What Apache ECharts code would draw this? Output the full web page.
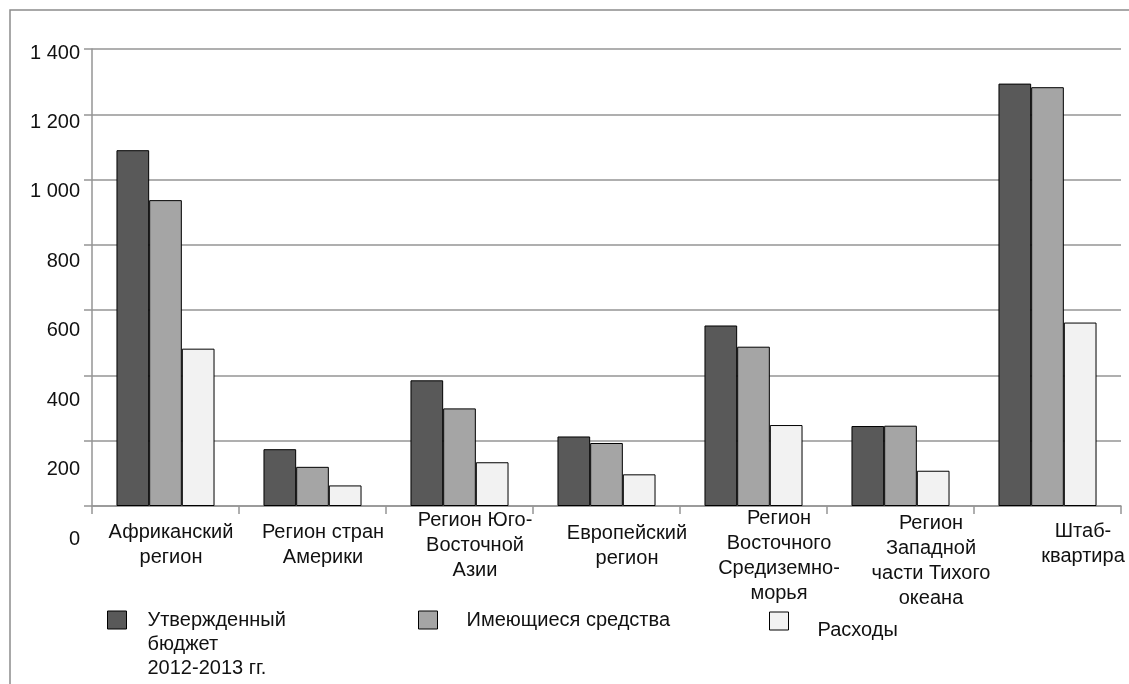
<!DOCTYPE html>
<html>
<head>
<meta charset="utf-8">
<script src="https://cdn.jsdelivr.net/npm/echarts@6/dist/echarts.min.js"></script>
<style>html,body{margin:0;padding:0;background:#fff;}#c{width:1129px;height:684px;}</style>
</head>
<body>
<div id="c"></div>
<script>
const categories = ['Африканский\nрегион','Регион стран\nАмерики','Регион Юго-\nВосточной\nАзии','Европейский\nрегион','Регион\nВосточного\nСредиземно-\nморья','Регион\nЗападной\nчасти Тихого\nокеана','Штаб-\nквартира'];
const seriesNames = ['Утвержденный\nбюджет\n2012-2013 гг.','Имеющиеся средства','Расходы'];
const budget = [1090, 174, 385, 213, 553, 245, 1294];
const available = [937, 120, 299, 193, 488, 246, 1283];
const expenses = [482, 63, 134, 97, 248, 108, 562];
const yMin = 0, yMax = 1400, yStep = 200;

// layout (style only)
const labelPadTop = [14,14,2,15,0,5,13];
const FONT = 'Liberation Sans, Arial, sans-serif';
const FS = 20;
const GRIDC = '#959595';
const colors = ['#595959','#a5a5a5','#f2f2f2'];

function fmt(v){ return String(v).replace(/\B(?=(\d{3})+(?!\d))/g,' '); }

const chart = echarts.init(document.getElementById('c'), null, {renderer:'canvas'});
const values = [budget, available, expenses];
const legendBase = {padding:0, itemWidth:19, itemHeight:18, selectedMode:false, icon:'rect',
  itemStyle:{borderColor:'#000', borderWidth:1}};
const option = {
  animation:false,
  backgroundColor:'#fff',
  textStyle:{fontFamily:FONT},
  graphic:[{type:'rect', shape:{x:10,y:10,width:1400,height:1000}, style:{fill:'none', stroke:'#8c8c8c', lineWidth:1.5}, silent:true, z:-1}],
  grid:[
    {left:92, right:8, top:49, bottom:178, outerBoundsMode:'none', containLabel:false},
    {left:95, width:1064, top:53, height:486, outerBoundsMode:'none', containLabel:false}
  ],
  xAxis:[
    {type:'category', gridIndex:0, data:categories, boundaryGap:true,
     axisLine:{show:true, lineStyle:{color:GRIDC, width:1.5}},
     axisTick:{show:true, length:8, interval:0, lineStyle:{color:GRIDC, width:1.5}},
     axisLabel:{show:false}},
    {type:'category', gridIndex:1, boundaryGap:true,
     data:categories.map((c,i)=>({value:c, textStyle:{padding:[labelPadTop[i],0,0,0]}})),
     axisLine:{show:false}, axisTick:{show:false},
     axisLabel:{show:true, interval:0, margin:-33, fontSize:FS, lineHeight:25, color:'#111', fontFamily:FONT, align:'center', verticalAlign:'top', hideOverlap:false}}
  ],
  yAxis:[
    {type:'value', gridIndex:0, min:yMin, max:yMax, interval:yStep,
     axisLine:{show:true, lineStyle:{color:GRIDC, width:1.5}},
     axisTick:{show:true, length:8, lineStyle:{color:GRIDC, width:1.5}},
     splitLine:{show:true, lineStyle:{color:GRIDC, width:1.5}},
     axisLabel:{show:false}},
    {type:'value', gridIndex:1, min:yMin, max:yMax, interval:yStep,
     axisLine:{show:false}, axisTick:{show:false}, splitLine:{show:false},
     axisLabel:{show:true, margin:15, fontSize:FS, color:'#111', fontFamily:FONT, formatter:fmt}}
  ],
  legend:[
    Object.assign({}, legendBase, {left:107, top:560, data:[seriesNames[0]],
     formatter:function(n){return '\n\n'+n;},
     textStyle:{fontSize:FS, lineHeight:24, color:'#111', fontFamily:FONT, padding:[0,0,0,16]}}),
    Object.assign({}, legendBase, {left:418, top:608, data:[seriesNames[1]],
     textStyle:{fontSize:FS, lineHeight:24, color:'#111', fontFamily:FONT, padding:[0,0,0,24]}}),
    Object.assign({}, legendBase, {left:769, top:602, data:[seriesNames[2]],
     formatter:function(n){return '\n'+n;},
     textStyle:{fontSize:FS, lineHeight:18, color:'#111', fontFamily:FONT, padding:[0,0,0,24]}})
  ],
  series: seriesNames.map((n,i)=>({
    name:n, type:'bar', xAxisIndex:0, yAxisIndex:0, data:values[i],
    barGap:'0%', barCategoryGap:'33.3%',
    itemStyle:{color:colors[i], borderColor:'#000', borderWidth:1}
  }))
};
chart.setOption(option);
</script>
</body>
</html>
